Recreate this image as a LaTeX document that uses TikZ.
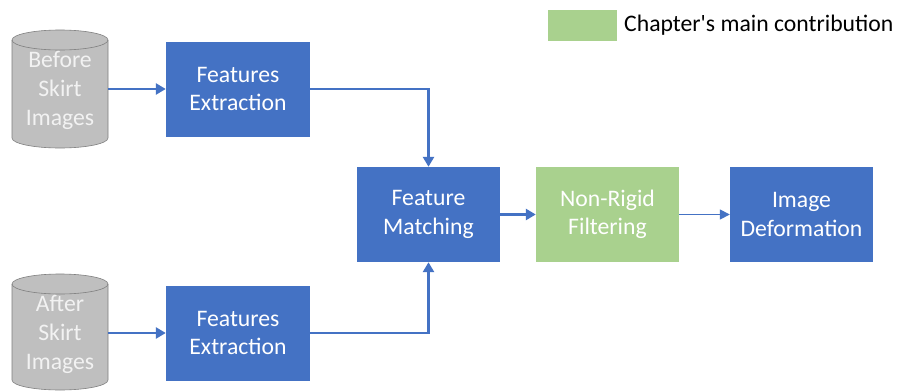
\documentclass[tikz,border=0pt]{standalone}
\usepackage{fontspec}
\setmainfont{Carlito}
\usetikzlibrary{arrows.meta}
\definecolor{boxblue}{HTML}{4472C4}
\definecolor{boxgreen}{HTML}{A9D18E}
\definecolor{cylfill}{HTML}{BFBFBF}
\definecolor{cyledge}{HTML}{7F7F7F}
\definecolor{cyltext}{HTML}{F2F2F2}
\tikzset{
  stagebox/.style={draw=none, fill=boxblue, text=white, minimum width=144pt,
    minimum height=95pt, inner sep=0pt, align=center, font=\fontsize{23.7}{28.5}\selectfont},
  keybox/.style={stagebox, fill=boxgreen},
  flow/.style={draw=boxblue, line width=2.7pt, -{Triangle[length=10pt,width=11pt]}},
  thinflow/.style={draw=boxblue, line width=1.5pt, -{Triangle[length=10pt,width=10pt]}},
  cyltxt/.style={text=cyltext, align=center, font=\fontsize{23.7}{29}\selectfont}
}
% cylinder drawn from its centre x, top-ellipse centre y and bottom y
\newcommand{\dbcyl}[3]{%
  \fill[cylfill] (#1-48,#2) -- (#1-48,#3-10) arc[start angle=180,end angle=0,x radius=48,y radius=10]
     -- (#1+48,#2) arc[start angle=0,end angle=-180,x radius=48,y radius=10] -- cycle;
  \draw[cyledge, line width=0.6pt] (#1-48,#2) -- (#1-48,#3-10) arc[start angle=180,end angle=0,x radius=48,y radius=10] -- (#1+48,#2);
  \draw[cyledge, line width=0.6pt] (#1,#2) ellipse[x radius=48,y radius=10];
}
\begin{document}
\begin{tikzpicture}[x=1pt,y=-1pt]
\useasboundingbox (0,0) rectangle (898,391);
\fill[white] (0,0) rectangle (898,391);

% image sources
\dbcyl{60}{40}{148}
\dbcyl{60}{284}{390}
\node[cyltxt] (before) at (60,90) {Before\\Skirt\\Images};
\node[cyltxt] (after) at (60,334) {After\\Skirt\\Images};
\coordinate (beforeR) at (108,89);
\coordinate (afterR) at (108,333);

% processing stages
\node[stagebox] (fe1) at (238,89) {Features\\Extraction};
\node[stagebox] (fe2) at (238,333) {Features\\Extraction};
\node[stagebox, minimum width=143pt] (fm) at (428.5,214.5) {Feature\\Matching};
\node[keybox, minimum width=143pt] (nr) at (607.5,214.5) {Non-Rigid\\Filtering};
\node[stagebox, minimum width=143pt] (id) at (801.5,214.5) {Image\\Deformation};

% legend
\node[fill=boxgreen, minimum width=69pt, minimum height=31pt, inner sep=0pt] (key) at (582.5,25.5) {};
\node[anchor=west, inner sep=0pt, font=\fontsize{23.7}{28}\selectfont] (keytxt) at (624,25) {Chapter\textquotesingle s main contribution};

% connectors
\draw[flow] (beforeR) -- (fe1.west);
\draw[flow] (afterR) -- (fe2.west);
\draw[flow] (fe1.east) -| (fm.north);
\draw[flow] (fe2.east) -| (fm.south);
\draw[flow] (fm.east) -- (nr.west);
\draw[thinflow] (nr.east) -- (id.west);
\end{tikzpicture}
\end{document}
